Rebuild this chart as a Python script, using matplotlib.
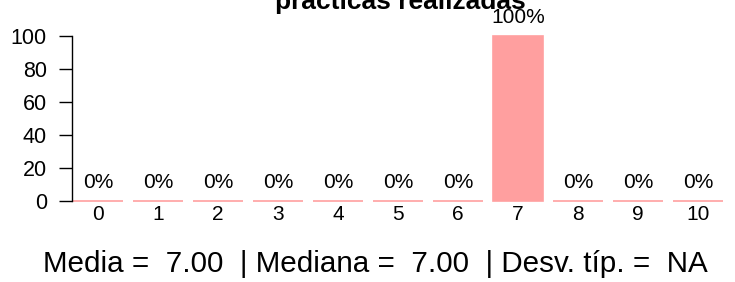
import matplotlib

matplotlib.use("Agg")
import matplotlib.pyplot as plt
import numpy as np

plt.rcParams["font.family"] = ["Liberation Sans", "DejaVu Sans"]

categories = ["0", "1", "2", "3", "4", "5", "6", "7", "8", "9", "10"]
percentages = [0, 0, 0, 0, 0, 0, 0, 100, 0, 0, 0]
yticks = [0, 20, 40, 60, 80, 100]
title = "prácticas realizadas"
summary = "Media =  7.00  | Mediana =  7.00  | Desv. típ. =  NA"

bar_color = "#FF9F9F"

fig = plt.figure(figsize=(7.35, 2.82), dpi=100)
ax = fig.add_axes([72 / 735, 81 / 282, 651 / 735, 165 / 282])

x = np.arange(len(categories))
ax.bar(x, percentages, width=0.833, color=bar_color, edgecolor=bar_color,
       linewidth=1.2, clip_on=False)

for xi, p in zip(x, percentages):
    ax.text(xi, p + 7.8, f"{p}%", ha="center", va="baseline", fontsize=15,
            clip_on=False)

ax.set_xlim(-0.433, 10.417)
ax.set_ylim(0, 100)
ax.set_yticks(yticks)
ax.set_xticks(x)
ax.set_xticklabels(categories)
ax.tick_params(axis="x", length=0, pad=3, labelsize=15)
ax.tick_params(axis="y", length=9.5, width=1, pad=8.5, labelsize=15.5)
for side in ["top", "right", "bottom"]:
    ax.spines[side].set_visible(False)
ax.spines["left"].set_bounds(0, 100)
ax.spines["left"].set_linewidth(1)

fig.text(400 / 735, 1 - 9 / 282, title, ha="center", va="baseline",
         fontsize=19, fontweight="bold")
fig.text(375 / 735, 1 - 272 / 282, summary, ha="center", va="baseline",
         fontsize=21.3)

fig.savefig("out.png", dpi=100)
